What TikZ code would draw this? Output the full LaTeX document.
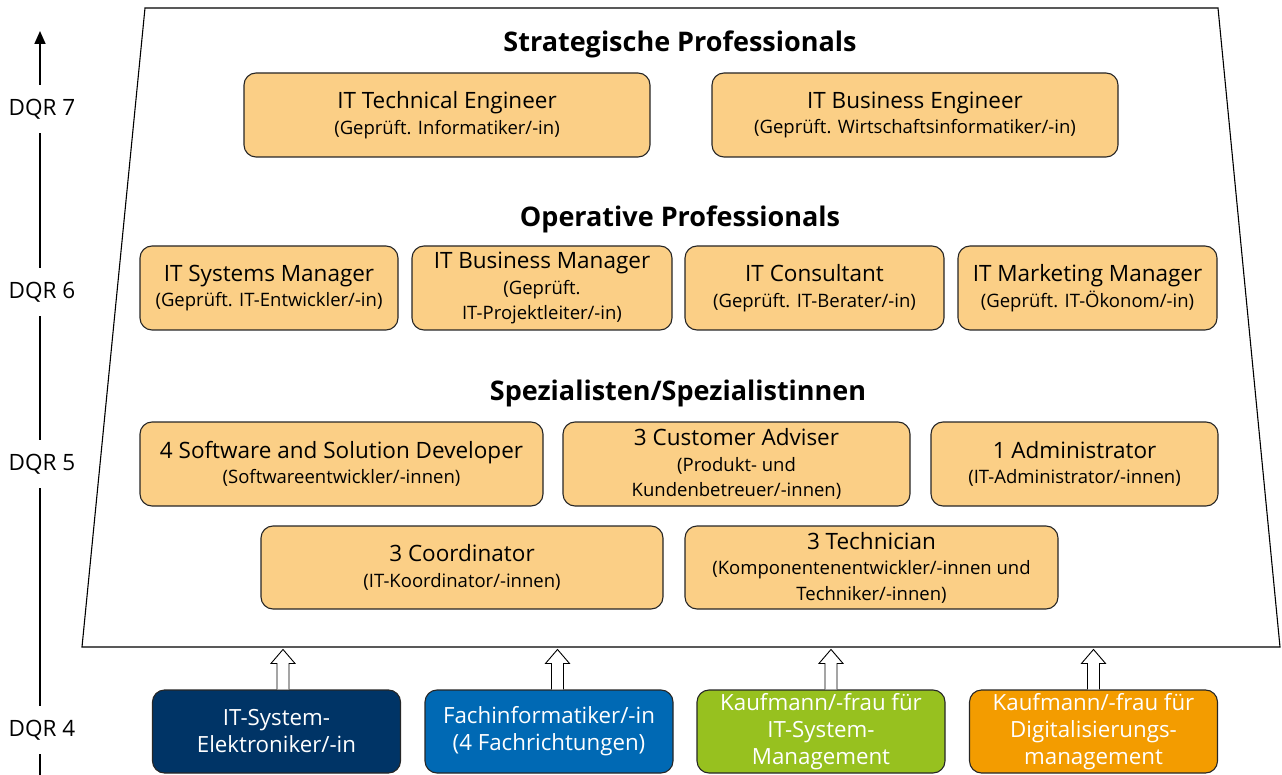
\documentclass[tikz,border=0pt]{standalone}
\usepackage{fontspec}
\setmainfont{Open Sans}
\usetikzlibrary{calc,arrows.meta}
\definecolor{boxfill}{HTML}{FBCF86}
\definecolor{navy}{HTML}{003466}
\definecolor{midblue}{HTML}{0069B4}
\definecolor{limegreen}{HTML}{97C11F}
\definecolor{darkorange}{HTML}{F39C00}
\newcommand\bigline[1]{{\fontsize{22.5}{27}\selectfont #1}}
\tikzset{
  obox/.style={draw=black!85, fill=boxfill, rounded corners=12pt, line width=1.1pt,
    align=center, inner sep=0pt, font=\fontsize{18.5}{25.5}\selectfont},
  cbox/.style={draw=black!85, rounded corners=12pt, line width=1.1pt, align=center,
    inner sep=0pt, text=white, font=\fontsize{22.3}{27}\selectfont,
    minimum width=248pt, minimum height=83pt},
  heading/.style={font=\bfseries\fontsize{27}{30}\selectfont},
  dqr/.style={fill=white, inner xsep=2pt, inner ysep=14pt, font=\fontsize{22.5}{26}\selectfont},
  hollow/.style={draw=black, fill=white, line width=0.9pt, line join=miter},
}
\begin{document}
\begin{tikzpicture}[x=1pt,y=-1pt]
\useasboundingbox (0,0) rectangle (1282,775);
% trapezoid frame
\draw[line width=1.1pt] (145,8) -- (1218,8) -- (1280,647) -- (82,647) -- cycle;

% level axis
\coordinate (axbot) at (40,775);
\coordinate (axtop) at (40,31);
\draw[line width=1.6pt, -{Triangle[length=13pt,width=11pt]}] (axbot) -- (axtop);
\node[dqr] (d7) at (42,109) {DQR 7};
\node[dqr] (d6) at (42,292) {DQR 6};
\node[dqr] (d5) at (42,464) {DQR 5};
\node[dqr] (d4) at (42,730) {DQR 4};

% headings
\node[heading] (h1) at (680,44) {Strategische Professionals};
\node[heading] (h2) at (680,219) {Operative Professionals};
\node[heading] (h3) at (678,393) {Spezialisten/Spezialistinnen};

% DQR 7
\node[obox, minimum width=406pt, minimum height=84pt] (te) at (447,115)
  {\bigline{IT Technical Engineer}\\(Geprüft. Informatiker/-in)};
\node[obox, minimum width=406pt, minimum height=84pt] (be) at (915,115)
  {\bigline{IT Business Engineer}\\(Geprüft. Wirtschaftsinformatiker/-in)};

% DQR 6
\node[obox, minimum width=258pt, minimum height=84pt] (sm) at (269,288)
  {\bigline{IT Systems Manager}\\(Geprüft. IT-Entwickler/-in)};
\node[obox, minimum width=260pt, minimum height=84pt] (bm) at (542,288)
  {\bigline{IT Business Manager}\\(Geprüft.\\IT-Projektleiter/-in)};
\node[obox, minimum width=259pt, minimum height=84pt] (co) at (814.5,288)
  {\bigline{IT Consultant}\\(Geprüft. IT-Berater/-in)};
\node[obox, minimum width=259pt, minimum height=84pt] (mm) at (1087.5,288)
  {\bigline{IT Marketing Manager}\\(Geprüft. IT-Ökonom/-in)};

% DQR 5
\node[obox, minimum width=403pt, minimum height=84pt] (sd) at (341.5,464)
  {\bigline{4 Software and Solution Developer}\\(Softwareentwickler/-innen)};
\node[obox, minimum width=347pt, minimum height=84pt] (ca) at (736.5,464)
  {\bigline{3 Customer Adviser}\\(Produkt- und\\Kundenbetreuer/-innen)};
\node[obox, minimum width=287pt, minimum height=84pt] (ad) at (1074.5,464)
  {\bigline{1 Administrator}\\(IT-Administrator/-innen)};
\node[obox, minimum width=402pt, minimum height=83pt] (kd) at (462,567.5)
  {\bigline{3 Coordinator}\\(IT-Koordinator/-innen)};
\node[obox, minimum width=373pt, minimum height=83pt] (tc) at (871.5,567.5)
  {\bigline{3 Technician}\\(Komponentenentwickler/-innen und\\Techniker/-innen)};

% DQR 4
\node[cbox, fill=navy] (b1) at (276.5,731.5) {IT-System-\\Elektroniker/-in};
\node[cbox, fill=midblue] (b2) at (549,731.5) {Fachinformatiker/-in\\(4 Fachrichtungen)};
\node[cbox, fill=limegreen] (b3) at (821,731.5) {Kaufmann/-frau für\\IT-System-\\Management};
\node[cbox, fill=darkorange] (b4) at (1093.5,731.5) {Kaufmann/-frau für\\Digitalisierungs-\\management};

% hollow arrows
\foreach \b/\dx in {b1/6.5, b2/8.5, b3/10, b4/0}{
  \draw[hollow] ($(\b.north)+(\dx-6,0)$) -- ++(0,-26) -- ++(-6,0) -- ++(12,-14)
     -- ++(12,14) -- ++(-6,0) -- ++(0,26);
}
\end{tikzpicture}
\end{document}
